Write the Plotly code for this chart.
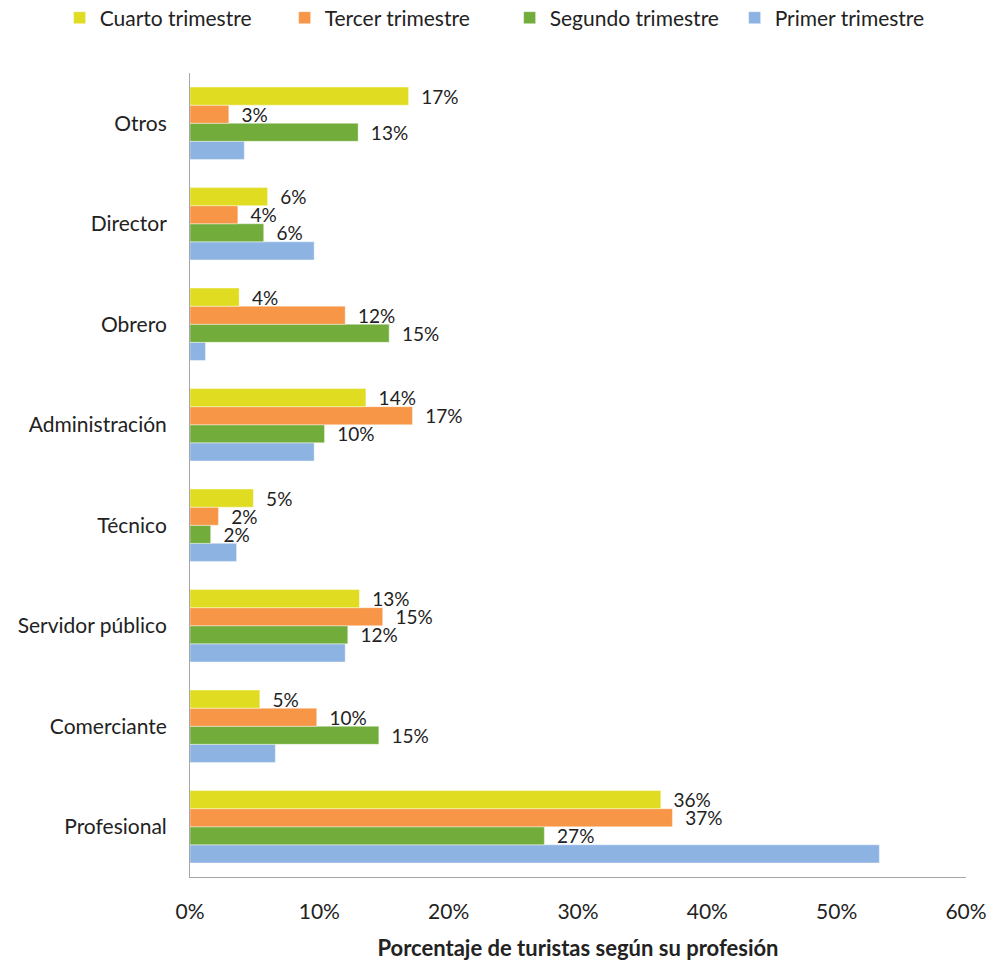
import plotly.graph_objects as go

categories = ["Profesional", "Comerciante", "Servidor público", "Técnico",
              "Administración", "Obrero", "Director", "Otros"]
primer = [53.3, 6.6, 12.0, 3.6, 9.6, 1.2, 9.6, 4.2]
segundo = [27.4, 14.6, 12.2, 1.6, 10.4, 15.4, 5.7, 13.0]
tercer = [37.3, 9.8, 14.9, 2.2, 17.2, 12.0, 3.7, 3.0]
cuarto = [36.4, 5.4, 13.1, 4.9, 13.6, 3.8, 6.0, 16.9]

series = [
    ("Primer trimestre", primer, "#8db3e2", False),
    ("Segundo trimestre", segundo, "#72ad3c", True),
    ("Tercer trimestre", tercer, "#f79646", True),
    ("Cuarto trimestre", cuarto, "#e0dc22", True),
]

FONT = "Lato, Open Sans, sans-serif"
fig = go.Figure()
for name, vals, color, lab in series:
    fig.add_trace(go.Bar(
        y=categories, x=vals, name=name, orientation="h",
        marker=dict(color=color, line=dict(color="rgba(255,255,255,0.4)", width=1)),
        text=[f"  {v:.0f}%" for v in vals] if lab else None,
        textposition="outside" if lab else "none",
        textfont=dict(size=19, color="#222222", family=FONT),
        constraintext="none", cliponaxis=False,
        hoverinfo="x+y",
    ))

fig.update_layout(
    barmode="group", bargap=0.28, bargroupgap=0,
    width=990, height=966,
    margin=dict(l=190, r=24, t=73, b=89, autoexpand=False),
    plot_bgcolor="white", paper_bgcolor="white",
    font=dict(family=FONT, size=21, color="#222222"),
    legend=dict(orientation="h", traceorder="reversed", x=-0.168, xanchor="left",
                y=1.0684, yanchor="middle", font=dict(size=21, color="#222222"),
                entrywidth=180, itemwidth=30),
    xaxis=dict(range=[0, 60], dtick=10, ticksuffix="%", showgrid=False,
               zeroline=False, showline=True, linecolor="#a6a6a6", linewidth=1,
               ticks="", tickfont=dict(size=21), ticklabelstandoff=16,
               title=dict(text="<b>Porcentaje de turistas según su profesión</b>",
                          font=dict(size=22), standoff=18)),
    yaxis=dict(showgrid=False, showline=True, linecolor="#a6a6a6", linewidth=1,
               ticks="", tickfont=dict(size=21), ticklabelstandoff=18),
)
fig.write_html("out.html")
